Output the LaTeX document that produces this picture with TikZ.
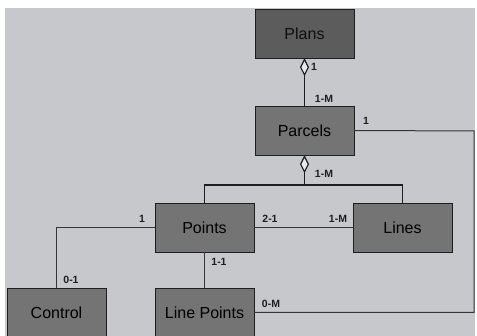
\documentclass[tikz,border=0pt]{standalone}
\usepackage{fontspec}
\setmainfont{Liberation Sans}
\usetikzlibrary{arrows.meta}
\definecolor{paper}{HTML}{C6C8CB}
\definecolor{boxgray}{HTML}{747474}
\definecolor{plansgray}{HTML}{5C5C5C}
\definecolor{inkgray}{HTML}{1E1E1E}
\begin{document}
\begin{tikzpicture}[x=1pt,y=-1pt,
  entity/.style={draw=inkgray,fill=boxgray,minimum width=99pt,minimum height=49pt,inner sep=0pt,
    text=black,font=\fontsize{16}{18}\selectfont},
  card/.style={text=inkgray,font=\fontsize{10.5}{12}\bfseries\selectfont,inner sep=0pt},
  link/.style={draw=inkgray!90,line width=1pt},
  agg/.style={draw=inkgray,line width=1.4pt,-{Diamond[length=18pt,width=9pt,fill=paper!40!white,line width=1.2pt]}}]
\useasboundingbox (0,0) rectangle (477,336);
\fill[white] (0,0) rectangle (477,336);
\fill[paper] (5,8) rectangle (475,336);
% classes
\node[entity,fill=plansgray,text=black!85!plansgray] (Plans) at (304.5,33.5) {Plans};
\node[entity] (Parcels) at (304.5,130.5) {Parcels};
\node[entity] (Points) at (204.5,227.5) {Points};
\node[entity] (Lines) at (402.5,227.5) {Lines};
\node[entity] (Control) at (56.5,312.5) {Control};
\node[entity] (LinePts) at (204.5,312.5) {Line Points};
\coordinate (split) at (304.5,185);
\coordinate (edge) at (474,131);
% connectors
\draw[agg] (Parcels.north) -- (Plans.south);
\draw[agg] (split) -- (Parcels.south);
\draw[draw=inkgray,line width=1.4pt] (Points.north) |- (split) -| (Lines.north);
\draw[link] (Parcels.east) -- (edge) |- (LinePts.east);
\draw[link] (Points.east) -- (Lines.west);
\draw[link] (Points.west) -| (Control.north);
\draw[link] (Points.south) -- (LinePts.north);
% multiplicities
\node[card] (m1) at (314,67) {1};
\node[card] (m2) at (324,99) {1-M};
\node[card] (m3) at (366,121) {1};
\node[card] (m4) at (324,174) {1-M};
\node[card] (m5) at (142,219) {1};
\node[card] (m6) at (270,219) {2-1};
\node[card] (m7) at (338,219) {1-M};
\node[card] (m8) at (71,280) {0-1};
\node[card] (m9) at (219,262) {1-1};
\node[card] (m10) at (271,304) {0-M};
\end{tikzpicture}
\end{document}
